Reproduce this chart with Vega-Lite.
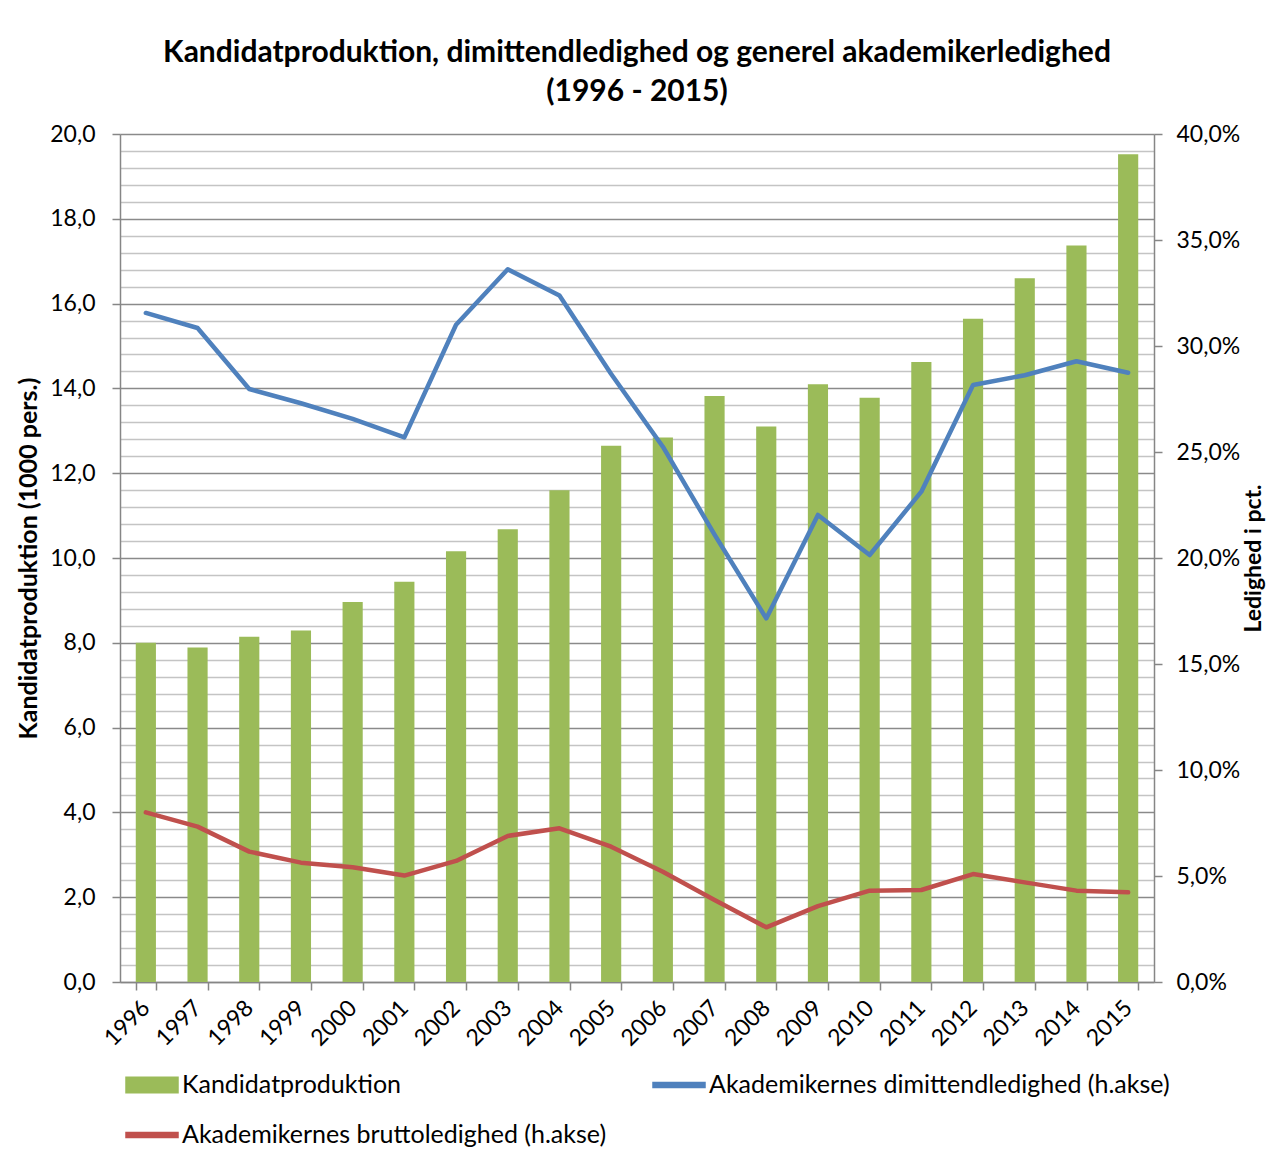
{
  "$schema": "https://vega.github.io/schema/vega-lite/v6.json",
  "width": 1034,
  "height": 848,
  "autosize": {"type": "none"},
  "padding": {"left": 120, "top": 134, "right": 116, "bottom": 180},
  "background": "white",
  "config": {
    "view": {"stroke": null},
    "font": "Lato",
    "axis": {
      "labelFont": "Lato",
      "labelFontSize": 23,
      "labelColor": "black",
      "titleFont": "Lato",
      "titleFontSize": 25,
      "titleFontWeight": "bold",
      "titleColor": "black",
      "domainColor": "#868686",
      "domainWidth": 1.5,
      "tickColor": "#868686",
      "tickWidth": 1.5,
      "tickSize": 8
    }
  },
  "title": {
    "text": ["Kandidatproduktion, dimittendledighed og generel akademikerledighed", "(1996 - 2015)"],
    "font": "Lato",
    "fontSize": 30,
    "fontWeight": "bold",
    "color": "black",
    "anchor": "middle",
    "lineHeight": 39,
    "offset": 16
  },
  "data": {
    "values": [
      {"aar": "1996", "kand": 8.00, "dimit": 31.56, "brutto": 8.00},
      {"aar": "1997", "kand": 7.89, "dimit": 30.85, "brutto": 7.33},
      {"aar": "1998", "kand": 8.14, "dimit": 27.97, "brutto": 6.15},
      {"aar": "1999", "kand": 8.29, "dimit": 27.30, "brutto": 5.63},
      {"aar": "2000", "kand": 8.96, "dimit": 26.56, "brutto": 5.41},
      {"aar": "2001", "kand": 9.44, "dimit": 25.69, "brutto": 5.02},
      {"aar": "2002", "kand": 10.16, "dimit": 31.00, "brutto": 5.71},
      {"aar": "2003", "kand": 10.68, "dimit": 33.62, "brutto": 6.89},
      {"aar": "2004", "kand": 11.60, "dimit": 32.38, "brutto": 7.25},
      {"aar": "2005", "kand": 12.65, "dimit": 28.68, "brutto": 6.38},
      {"aar": "2006", "kand": 12.84, "dimit": 25.25, "brutto": 5.20},
      {"aar": "2007", "kand": 13.82, "dimit": 21.10, "brutto": 3.87},
      {"aar": "2008", "kand": 13.10, "dimit": 17.15, "brutto": 2.58},
      {"aar": "2009", "kand": 14.10, "dimit": 22.03, "brutto": 3.58},
      {"aar": "2010", "kand": 13.78, "dimit": 20.14, "brutto": 4.31},
      {"aar": "2011", "kand": 14.62, "dimit": 23.13, "brutto": 4.34},
      {"aar": "2012", "kand": 15.64, "dimit": 28.16, "brutto": 5.09},
      {"aar": "2013", "kand": 16.60, "dimit": 28.62, "brutto": 4.70},
      {"aar": "2014", "kand": 17.37, "dimit": 29.28, "brutto": 4.31},
      {"aar": "2015", "kand": 19.52, "dimit": 28.74, "brutto": 4.23}
    ]
  },
  "encoding": {
    "x": {
      "field": "aar",
      "type": "ordinal",
      "scale": {"paddingInner": 0.61, "paddingOuter": 0.305},
      "axis": {
        "title": null,
        "labelAngle": -45,
        "labelAlign": "right",
        "labelBaseline": "middle",
        "labelPadding": 14,
        "tickBand": "extent",
        "grid": false
      }
    }
  },
  "layer": [
    {
      "mark": {"type": "bar", "color": "#9BBB59"},
      "encoding": {
        "y": {
          "field": "kand",
          "type": "quantitative",
          "scale": {"domain": [0, 20], "nice": false},
          "axis": {
            "title": "Kandidatproduktion (1000 pers.)",
            "titlePadding": 8,
            "values": [0,0.4,0.8,1.2,1.6,2,2.4,2.8,3.2,3.6,4,4.4,4.8,5.2,5.6,6,6.4,6.8,7.2,7.6,8,8.4,8.8,9.2,9.6,10,10.4,10.8,11.2,11.6,12,12.4,12.8,13.2,13.6,14,14.4,14.8,15.2,15.6,16,16.4,16.8,17.2,17.6,18,18.4,18.8,19.2,19.6,20],
            "grid": true,
            "gridWidth": 1.5,
            "gridColor": {"condition": {"test": "abs(datum.value/2 - round(datum.value/2)) < 0.01", "value": "#8a8a8a"}, "value": "#c4c4c4"},
            "tickOpacity": {"condition": {"test": "abs(datum.value/2 - round(datum.value/2)) < 0.01", "value": 1}, "value": 0},
            "labelExpr": "abs(datum.value/2 - round(datum.value/2)) < 0.01 ? replace(format(datum.value, '.1f'), '.', ',') : ''",
            "labelPadding": 17
          }
        },
        "color": {
          "datum": "Kandidatproduktion",
          "scale": {
            "domain": ["Kandidatproduktion", "Akademikernes dimittendledighed (h.akse)", "Akademikernes bruttoledighed (h.akse)"],
            "range": ["#9BBB59", "#4F81BD", "#C0504D"]
          },
          "legend": {
            "orient": "none",
            "legendX": 5,
            "legendY": 924,
            "direction": "horizontal",
            "columns": 2,
            "title": null,
            "symbolType": "M-1,-0.3H1V0.3H-1Z",
            "symbolSize": 2704,
            "labelFont": "Lato",
            "labelFontSize": 25,
            "labelColor": "black",
            "labelOffset": 3,
            "labelLimit": 0,
            "columnPadding": 43,
            "rowPadding": 10,
            "encode": {
              "symbols": {
                "update": {
                  "shape": {"signal": "datum.value === 'Kandidatproduktion' ? 'M-1,-0.3H1V0.3H-1Z' : 'M-1,-0.1H1V0.1H-1Z'"},
                  "fill": {"scale": "color", "field": "value"},
                  "stroke": {"value": "transparent"},
                  "opacity": {"value": 1}
                }
              }
            }
          }
        }
      }
    },
    {
      "layer": [
        {
          "mark": {"type": "line", "strokeWidth": 4.5, "strokeJoin": "round", "strokeCap": "round"},
          "encoding": {
            "y": {
              "field": "dimit",
              "type": "quantitative",
              "scale": {"domain": [0, 40], "nice": false},
              "axis": {
                "orient": "right",
                "title": "Ledighed i pct.",
                "titleAngle": 270,
                "titleBaseline": "top",
                "titlePadding": 3,
                "titleFontSize": 23,
                "values": [0, 5, 10, 15, 20, 25, 30, 35, 40],
                "grid": false,
                "labelExpr": "replace(format(datum.value, '.1f'), '.', ',') + '%'",
                "labelPadding": 14
              }
            },
            "color": {"datum": "Akademikernes dimittendledighed (h.akse)"}
          }
        },
        {
          "mark": {"type": "line", "strokeWidth": 4.5, "strokeJoin": "round", "strokeCap": "round"},
          "encoding": {
            "y": {"field": "brutto", "type": "quantitative"},
            "color": {"datum": "Akademikernes bruttoledighed (h.akse)"}
          }
        }
      ]
    }
  ],
  "resolve": {"scale": {"y": "independent"}}
}
